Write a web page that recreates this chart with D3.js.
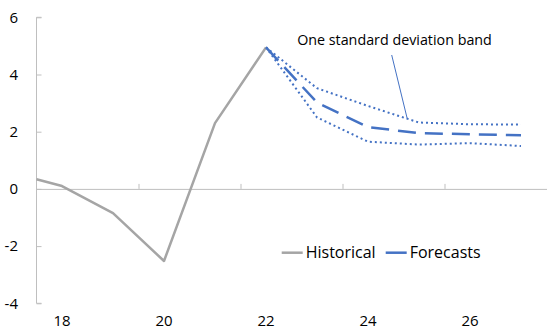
<!DOCTYPE html>
<html><head><meta charset="utf-8">
<script src="https://cdn.jsdelivr.net/npm/d3@7"></script>
<style>body{margin:0;background:#fff;}svg{display:block;font-family:"Open Sans",sans-serif;}</style>
</head><body><svg id="c" width="547" height="336"></svg>
<script>
const histYears = [17.5, 18, 19, 20, 21, 22];
const histValues = [0.34, 0.1, -0.85, -2.52, 2.3, 4.95];
const fcYears = [22, 23, 24, 25, 26, 27];
const fcCentral = [4.95, 3.02, 2.16, 1.95, 1.91, 1.88];
const fcUpper = [4.95, 3.52, 2.9, 2.32, 2.26, 2.25];
const fcLower = [4.95, 2.5, 1.65, 1.55, 1.6, 1.5];
const yTicks = [-4, -2, 0, 2, 4, 6];
const xLabels = [18, 20, 22, 24, 26];
const xTickMarks = [19.5, 21.5, 23.5, 25.5];
const annotation = "One standard deviation band";
const legendItems = ["Historical", "Forecasts"];

const svg = d3.select("#c");
const x = d3.scaleLinear().domain([17.5, 27.5]).range([36.5, 546.5]);
const y = d3.scaleLinear().domain([-4, 6]).range([303.3, 17.3]);
const gray = "#A5A5A5", blue = "#4472C4", axisCol = "#BFBFBF";

// y axis
const ya = svg.append("g").attr("transform", `translate(${x(17.5)},0)`)
  .call(d3.axisRight(y).tickValues(yTicks).tickSize(5).tickFormat(""));
ya.select(".domain").attr("stroke", axisCol).attr("d", `M5,${y(-4)}H0V${y(6)}H5`);
ya.selectAll(".tick line").attr("stroke", axisCol);
svg.append("g").selectAll("text").data(yTicks).join("text")
  .attr("x", 18).attr("y", d => y(d)).attr("dy", "0.35em")
  .attr("text-anchor", "end").attr("font-size", 15).attr("fill", "#000")
  .text(d => d);

// zero line x axis
const xa = svg.append("g").attr("transform", `translate(0,${y(0)})`)
  .call(d3.axisTop(x).tickValues(xTickMarks).tickSize(5).tickFormat("").tickSizeOuter(0));
xa.select(".domain").attr("stroke", axisCol);
xa.selectAll(".tick line").attr("stroke", axisCol);
svg.append("g").selectAll("text").data(xLabels).join("text")
  .attr("x", d => x(d)).attr("y", 326)
  .attr("text-anchor", "middle").attr("font-size", 15).attr("fill", "#000")
  .text(d => d);

const line = d3.line().x(d => x(d[0])).y(d => y(d[1]));
const zipped = (xs, vs) => xs.map((v, i) => [v, vs[i]]);

svg.append("path").attr("d", line(zipped(fcYears, fcUpper))).attr("fill", "none")
  .attr("stroke", blue).attr("stroke-width", 2).attr("stroke-dasharray", "2,3");
svg.append("path").attr("d", line(zipped(fcYears, fcLower))).attr("fill", "none")
  .attr("stroke", blue).attr("stroke-width", 2).attr("stroke-dasharray", "2,3");
svg.append("path").attr("d", line(zipped(histYears, histValues))).attr("fill", "none")
  .attr("stroke", gray).attr("stroke-width", 2.5).attr("stroke-linejoin", "round");
svg.append("path").attr("d", line(zipped(fcYears, fcCentral))).attr("fill", "none")
  .attr("stroke", blue).attr("stroke-width", 2.5).attr("stroke-dasharray", "18,9");

// annotation
svg.append("text").attr("x", 394.5).attr("y", 45).attr("text-anchor", "middle")
  .attr("font-size", 14.3).attr("fill", "#000").text(annotation);
svg.append("line").attr("x1", 391.7).attr("y1", 55).attr("x2", x(24.77)).attr("y2", y(2.45))
  .attr("stroke", blue).attr("stroke-width", 1);

// legend
const leg = svg.append("g");
const legX = [281.7, 385.7];
const legCol = [gray, blue];
legendItems.forEach((t, i) => {
  leg.append("line").attr("x1", legX[i]).attr("x2", legX[i] + 21).attr("y1", 252.7).attr("y2", 252.7)
    .attr("stroke", legCol[i]).attr("stroke-width", 2.5);
  leg.append("text").attr("x", legX[i] + 24).attr("y", 252.7).attr("dy", "0.35em")
    .attr("font-size", 16).attr("fill", "#000").text(t);
});
</script></body></html>
